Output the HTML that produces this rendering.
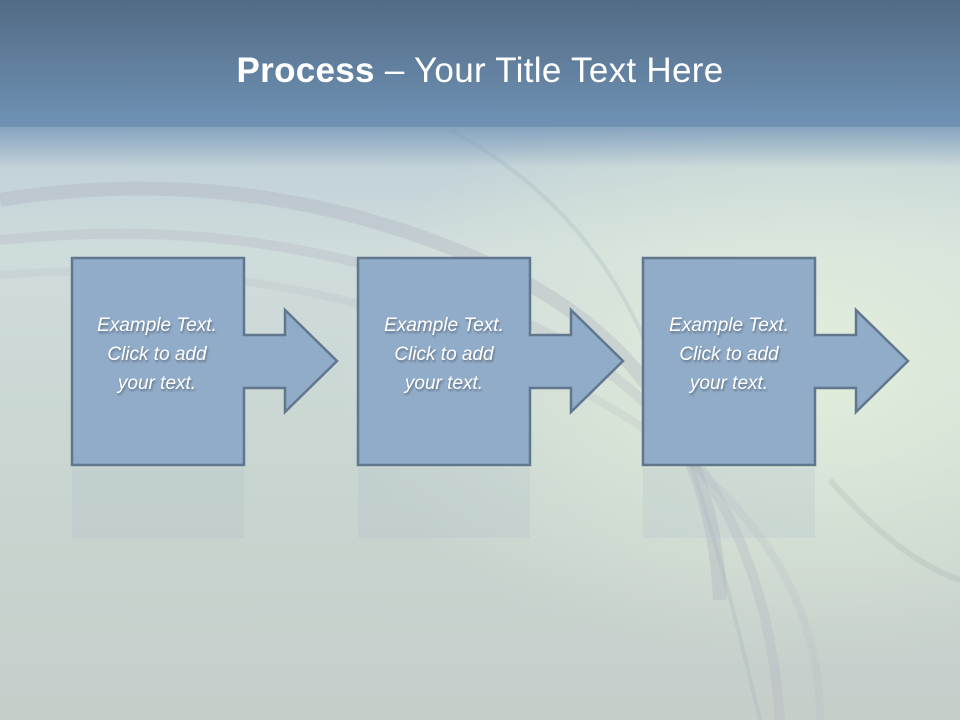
<!DOCTYPE html>
<html><head><style>
html,body{margin:0;padding:0;}
body{width:960px;height:720px;overflow:hidden;position:relative;font-family:"Liberation Sans",sans-serif;
background:linear-gradient(180deg,#bccdd6 127px,#cfdcdc 250px,#c9d6d1 450px,#c6ceca 720px);}
.hdr{position:absolute;left:0;top:0;width:960px;height:127px;background:linear-gradient(180deg,#526b85,#6f92b5);}
.fade{position:absolute;left:0;top:127px;width:960px;height:40px;background:linear-gradient(180deg,rgba(111,146,181,0.7),rgba(111,146,181,0));}
.title{position:absolute;top:51px;width:960px;text-align:center;color:#fff;font-size:35px;letter-spacing:0.3px;}
</style></head><body>
<svg style="position:absolute;left:0;top:0" width="960" height="720">
<defs>
<radialGradient id="g" cx="0.85" cy="0.4" r="0.5"><stop offset="0" stop-color="#e4f0dc" stop-opacity="0.9"/><stop offset="1" stop-color="#e4f0dc" stop-opacity="0"/></radialGradient>
</defs>
<rect x="0" y="127" width="960" height="600" fill="url(#g)"/>
<path d="M0,200 Q250,160 480,260 T720,600" stroke="#a9aab8" stroke-width="14" fill="none" opacity="0.3"/>
<path d="M0,240 Q280,210 520,320 T780,720" stroke="#b0b0bd" stroke-width="10" fill="none" opacity="0.28"/>
<path d="M0,275 Q300,250 560,380 T820,720" stroke="#b8bcc4" stroke-width="8" fill="none" opacity="0.25"/>
<path d="M450,130 Q580,200 640,330 T760,720" stroke="#9ab0b8" stroke-width="4" fill="none" opacity="0.25"/>
<path d="M830,480 Q900,560 960,580" stroke="#8fa5a0" stroke-width="6" fill="none" opacity="0.2"/>
<g fill="#91acc9" stroke="#61778e" stroke-width="2.5" stroke-linejoin="miter">
<path d="M72,258 H244 V335 H285 V310 L337,361 L285,412 V388 H244 V465 H72 Z"/>
<path d="M358,258 H530 V335 H571 V310 L623,361 L571,412 V388 H530 V465 H358 Z"/>
<path d="M643,258 H815 V335 H856 V310 L908,361 L856,412 V388 H815 V465 H643 Z"/>
</g>
<g fill="#aebfcb" opacity="0.25">
<rect x="72" y="468" width="172" height="70"/>
<rect x="358" y="468" width="172" height="70"/>
<rect x="643" y="468" width="172" height="70"/>
</g>
<g font-family="Liberation Sans,sans-serif" font-style="italic" font-size="19" fill="#fff" text-anchor="middle" style="text-shadow:1px 2px 2px rgba(0,0,0,0.35)">
<text x="157" y="331">Example Text.</text><text x="157" y="360">Click  to add</text><text x="157" y="389">your text.</text>
<text x="444" y="331">Example Text.</text><text x="444" y="360">Click  to add</text><text x="444" y="389">your text.</text>
<text x="729" y="331">Example Text.</text><text x="729" y="360">Click  to add</text><text x="729" y="389">your text.</text>
</g>
</svg>
<div class="hdr"></div><div class="fade"></div>
<div class="title"><b>Process</b> – Your Title Text Here</div>
</body></html>
